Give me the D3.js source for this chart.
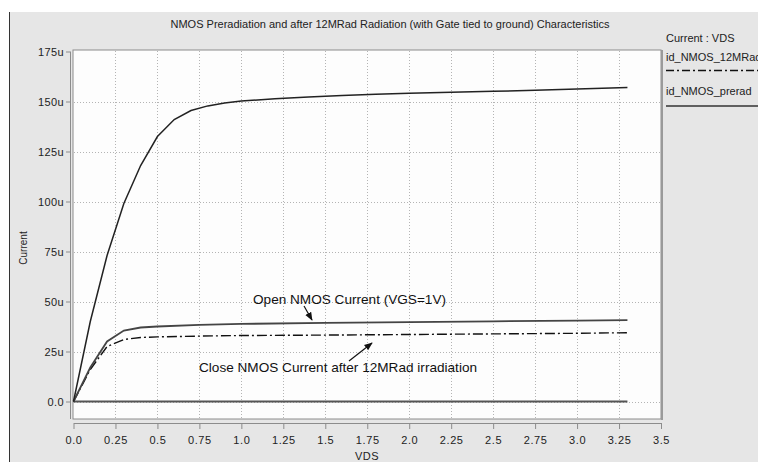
<!DOCTYPE html>
<html>
<head>
<meta charset="utf-8">
<script src="https://cdn.jsdelivr.net/npm/d3@7"></script>
<style>
  html, body { margin: 0; padding: 0; background: #ffffff; }
  svg { display: block; font-family: "Liberation Sans", Arial, sans-serif; }
</style>
</head>
<body>
<svg id="chart" width="758" height="462"></svg>
<script>
// Drain voltage samples (V) and drain currents (uA)
const vdsHigh = [0, 0.1, 0.2, 0.3, 0.4, 0.5, 0.6, 0.7, 0.8, 0.9, 1.0, 1.2, 1.4, 1.6, 1.8, 2.0, 2.25, 2.5, 2.75, 3.0, 3.3];
const idHigh  = [0, 40, 73, 99, 118, 132.5, 141, 145.5, 147.8, 149.2, 150.2, 151.4, 152.3, 153, 153.6, 154.1, 154.6, 155.1, 155.6, 156.2, 157];

const vdsLow     = [0, 0.1, 0.2, 0.3, 0.4, 0.5, 0.75, 1.0, 1.5, 2.0, 2.5, 3.0, 3.3];
const idPrerad   = [0, 17, 30, 35.5, 37, 37.5, 38.3, 38.8, 39.3, 39.7, 40.1, 40.4, 40.7];
const id12MRad   = [0, 16, 27.5, 31, 32, 32.3, 32.7, 33, 33.2, 33.5, 33.8, 34.1, 34.4];

const vdsZero = [0, 3.3];
const idZero  = [0, 0];

const xTicks = [0, 0.25, 0.5, 0.75, 1.0, 1.25, 1.5, 1.75, 2.0, 2.25, 2.5, 2.75, 3.0, 3.25, 3.5];
const xTickLabels = ["0.0", "0.25", "0.5", "0.75", "1.0", "1.25", "1.5", "1.75", "2.0", "2.25", "2.5", "2.75", "3.0", "3.25", "3.5"];
const yTicks = [0, 25, 50, 75, 100, 125, 150, 175];
const yTickLabels = ["0.0", "25u", "50u", "75u", "100u", "125u", "150u", "175u"];

const legendNames = ["id_NMOS_12MRad", "id_NMOS_prerad"];

const svg = d3.select("#chart");

// window frame
svg.append("rect").attr("x", 9).attr("y", 12).attr("width", 749).attr("height", 450).attr("fill", "#e6e6e6");
svg.append("line").attr("x1", 9.5).attr("x2", 9.5).attr("y1", 12).attr("y2", 462).attr("stroke", "#333").attr("stroke-width", 1);

const plot = { left: 73, right: 661, top: 50, bottom: 419 };

const x = d3.scaleLinear().domain([0, 3.5]).range([73.5, 661]);
const y = d3.scaleLinear().domain([0, 175]).range([401.5, 51.5]);

// plot background
svg.append("rect")
  .attr("x", plot.left).attr("y", plot.top)
  .attr("width", plot.right - plot.left).attr("height", plot.bottom - plot.top)
  .attr("fill", "#fdfdfd").attr("stroke", "#8c8c8c").attr("stroke-width", 1);
svg.append("line").attr("x1", plot.right + 1).attr("x2", plot.right + 1)
  .attr("y1", plot.top).attr("y2", plot.bottom + 1).attr("stroke", "#9a9a9a").attr("stroke-width", 2);

// grid
const grid = svg.append("g").attr("stroke", "#b4b4b4").attr("stroke-width", 1).attr("stroke-dasharray", "1,2");
grid.selectAll("line.v").data(xTicks.slice(1, -1)).join("line")
  .attr("x1", d => Math.round(x(d)) + 0.5).attr("x2", d => Math.round(x(d)) + 0.5)
  .attr("y1", plot.top + 1).attr("y2", plot.bottom);
grid.selectAll("line.h").data(yTicks.slice(0, -1)).join("line")
  .attr("x1", plot.left + 1).attr("x2", plot.right)
  .attr("y1", d => Math.round(y(d)) + 0.5).attr("y2", d => Math.round(y(d)) + 0.5);

// axes
const xAxis = d3.axisBottom(x).tickValues(xTicks).tickSize(6).tickSizeOuter(0)
  .tickFormat((d, i) => xTickLabels[i]);
const gx = svg.append("g").attr("transform", "translate(0,423)").call(xAxis);
gx.select(".domain").attr("stroke", "#8c8c8c");
gx.selectAll(".tick line").attr("stroke", "#8c8c8c");
gx.selectAll(".tick text").attr("fill", "#222").attr("font-size", 11).attr("letter-spacing", "0.6px")
  .attr("font-family", "Liberation Sans, Arial, sans-serif").attr("dy", "1.05em");

const yAxis = d3.axisLeft(y).tickValues(yTicks).tickSize(4).tickSizeOuter(0)
  .tickFormat((d, i) => yTickLabels[i]);
const gy = svg.append("g").attr("transform", "translate(70,0)").call(yAxis);
gy.select(".domain").attr("stroke", "#8c8c8c").attr("d", `M0.5,${y(175)}V${plot.bottom}`);
gy.selectAll(".tick line").attr("stroke", "#8c8c8c");
gy.selectAll(".tick text").attr("fill", "#222").attr("font-size", 11).attr("letter-spacing", "0.4px")
  .attr("font-family", "Liberation Sans, Arial, sans-serif").attr("x", -6);

// curves
const line = d3.line().x(d => x(d[0])).y(d => y(d[1]));
const pairs = (xs, ys) => xs.map((v, i) => [v, ys[i]]);

svg.append("path").datum(pairs(vdsZero, idZero)).attr("d", line)
  .attr("fill", "none").attr("stroke", "#555").attr("stroke-width", 2);
svg.append("path").datum(pairs(vdsLow, id12MRad)).attr("d", line)
  .attr("fill", "none").attr("stroke", "#111").attr("stroke-width", 1.4).attr("stroke-dasharray", "10,3,2,3");
svg.append("path").datum(pairs(vdsLow, idPrerad)).attr("d", line)
  .attr("fill", "none").attr("stroke", "#444").attr("stroke-width", 1.8);
svg.append("path").datum(pairs(vdsHigh, idHigh)).attr("d", line)
  .attr("fill", "none").attr("stroke", "#222").attr("stroke-width", 1.5);

// title and axis names
svg.append("text").attr("x", 390).attr("y", 28).attr("text-anchor", "middle")
  .attr("font-size", 11).attr("fill", "#222")
  .text("NMOS Preradiation and after 12MRad Radiation (with Gate tied to ground) Characteristics");
svg.append("text").attr("x", 367).attr("y", 460).attr("text-anchor", "middle")
  .attr("font-size", 11).attr("fill", "#222").attr("letter-spacing", "0.5px").text("VDS");
svg.append("text").attr("transform", "translate(27,248) rotate(-90)").attr("text-anchor", "middle")
  .attr("font-size", 10).attr("fill", "#222").text("Current");

// annotations
const defs = svg.append("defs");
defs.append("marker").attr("id", "arrowHead").attr("viewBox", "0 0 10 10")
  .attr("refX", 9).attr("refY", 5).attr("markerWidth", 7).attr("markerHeight", 7)
  .attr("orient", "auto-start-reverse")
  .append("path").attr("d", "M0,1 L10,5 L0,9 Z").attr("fill", "#111");

svg.append("text").attr("x", 253).attr("y", 304).attr("font-size", 13.6).attr("fill", "#111")
  .text("Open NMOS Current (VGS=1V)");
svg.append("line").attr("x1", 304).attr("y1", 306).attr("x2", 312).attr("y2", 320)
  .attr("stroke", "#111").attr("stroke-width", 1.2).attr("marker-end", "url(#arrowHead)");

svg.append("text").attr("x", 199).attr("y", 372).attr("font-size", 13.6).attr("fill", "#111")
  .text("Close NMOS Current after 12MRad irradiation");
svg.append("line").attr("x1", 349).attr("y1", 361).attr("x2", 372).attr("y2", 343)
  .attr("stroke", "#111").attr("stroke-width", 1.2).attr("marker-end", "url(#arrowHead)");

// legend (panel runs past the right edge of the window)
const lg = svg.append("g").attr("font-size", 11).attr("fill", "#222");
lg.append("text").attr("x", 666).attr("y", 42).text("Current : VDS");
lg.append("text").attr("x", 666).attr("y", 61).text(legendNames[0]);
lg.append("line").attr("x1", 666).attr("x2", 758).attr("y1", 70.5).attr("y2", 70.5)
  .attr("stroke", "#111").attr("stroke-width", 1.4).attr("stroke-dasharray", "8,3,2,3");
lg.append("text").attr("x", 666).attr("y", 95).text(legendNames[1]);
lg.append("line").attr("x1", 666).attr("x2", 758).attr("y1", 106).attr("y2", 106)
  .attr("stroke", "#333").attr("stroke-width", 1.6);
</script>
</body>
</html>
